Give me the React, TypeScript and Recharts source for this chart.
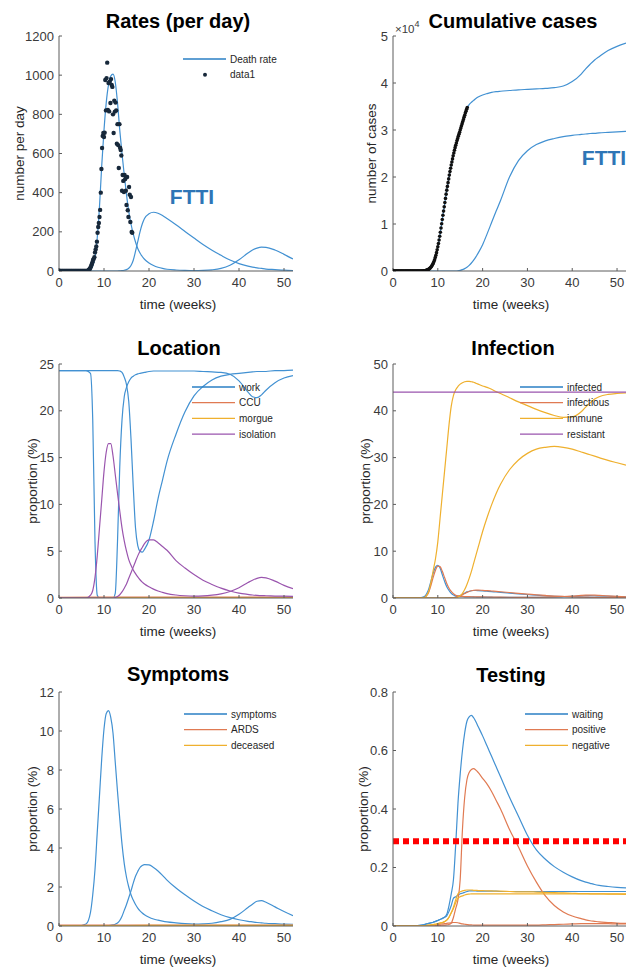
import React from 'react'
import { ComposedChart, Line, Scatter, XAxis, YAxis, Legend, ReferenceLine } from 'recharts'

// shared week grid for the model curves
const weeks = [
  0, 4, 6, 7, 7.5, 8, 8.5, 9, 9.5, 10,
  10.5, 11, 11.5, 12, 12.5, 13, 13.5, 14, 14.5, 15,
  15.5, 16, 16.5, 17, 17.5, 18, 18.5, 19, 20, 21,
  22, 23, 24, 26, 28, 30, 32, 34, 36, 38,
  40, 42, 43, 44, 45, 46, 48, 50, 52,
]
const flatWeeks = [0, 10, 20, 30, 40, 52]
const xTicks = [0, 10, 20, 30, 40, 50]

// Rates (per day)
const rateA = [
  0, 0, 1, 8, 25, 70, 170, 330, 540, 720,
  860, 950, 995, 1005, 965, 860, 720, 600, 490, 390,
  305, 240, 190, 148, 115, 92, 74, 60, 41, 28,
  19, 13, 9, 5, 3, 2, 3, 6, 13, 29,
  57, 92, 107, 117, 122, 121, 107, 85, 61,
]
const rateB = [
  0, 0, 0, 0, 0, 0, 0, 0, 0, 0,
  0, 0, 0, 0, 0, 0, 1, 2, 4, 7,
  14, 28, 55, 100, 150, 200, 240, 268, 292, 300,
  295, 283, 268, 236, 202, 168, 135, 106, 80, 56,
  38, 25, 20, 16, 13, 10, 7, 4, 2,
]
// observed daily deaths (one value per day from week 0)
const deathsDaily = [
  0, 0, 0, 0, 0, 0, 0, 0, 0, 0, 0, 0, 0, 0, 0, 0, 0, 0, 0, 0,
  0, 0, 0, 0, 0, 0, 0, 0, 0, 0, 0, 0, 0, 0, 0, 0, 0, 0, 0, 0,
  0, 0, 0, 0, 0, 0, 5, 8, 12, 18,
  25, 35, 45, 56, 62, 70, 95, 110, 125, 150,
  195, 225, 245, 276, 312, 400, 521, 628, 690, 705,
  684, 706, 975, 820, 985, 1064, 822, 960, 815, 967,
  858, 980, 950, 940, 800, 705, 870, 814, 860, 820,
  650, 750, 643, 526, 750, 630, 618, 590, 410, 490,
  460, 403, 490, 470, 410, 337, 480, 310, 276, 429,
  390, 250, 378, 199, 195,
]

// Cumulative cases
const cumA = [
  0, 0, 0, 50, 150, 400, 1000, 2000, 3400, 5000,
  7800, 10900, 14100, 17200, 20000, 22500, 24800, 26700, 28400, 30000,
  31600, 33100, 34600, 35400, 35900, 36300, 36700, 37000, 37450, 37750,
  38000, 38150, 38250, 38400, 38550, 38650, 38750, 38850, 39000, 39350,
  40300, 41900, 43000, 44000, 44900, 45600, 46900, 47800, 48500,
]
const cumB = [
  0, 0, 0, 0, 0, 0, 0, 0, 0, 0,
  0, 0, 0, 0, 0, 0, 0, 0, 50, 150,
  300, 500, 800, 1200, 1700, 2300, 3000, 3800, 5600, 7900,
  10300, 12700, 15000, 20000, 23500, 25600, 26900, 27700, 28200, 28600,
  28850, 29050, 29150, 29250, 29300, 29400, 29500, 29600, 29700,
]
const casesDaily = [
  0, 0, 0, 0, 0, 0, 0, 0, 0, 0, 0, 0, 0, 0, 0, 0, 0, 0, 0, 0,
  0, 0, 0, 0, 0, 0, 0, 0, 0, 0, 0, 0, 0, 0, 0, 0, 0, 0, 0, 0,
  0, 0, 0, 0, 0, 0, 5, 10, 20, 35,
  55, 85, 125, 180, 240, 310, 400, 500, 620, 780,
  960, 1180, 1420, 1700, 2000, 2400, 2850, 3350, 3900, 4500,
  5150, 5850, 6600, 7400, 8250, 9150, 10050, 10950, 11850, 12750,
  13650, 14550, 15450, 16350, 17200, 18000, 18800, 19600, 20400, 21150,
  21850, 22550, 23200, 23850, 24500, 25100, 25700, 26250, 26750, 27250,
  27750, 28200, 28650, 29100, 29500, 30000, 30450, 30900, 31350, 31800,
  32250, 32700, 33150, 33600, 34000, 34400, 34800,
]

// Location
const workA = [
  24.3, 24.3, 24.3, 24.0, 19, 6, 0.3, 0, 0, 0,
  0, 0, 0, 0, 0.5, 6, 14, 19, 21.5, 22.5,
  23.1, 23.5, 23.7, 23.85, 23.95, 24.0, 24.05, 24.1, 24.2, 24.25,
  24.25, 24.25, 24.25, 24.25, 24.25, 24.25, 24.2, 24.15, 24.1, 23.9,
  23.2, 22.0, 21.5, 21.4, 21.7, 22.2, 23.0, 23.5, 23.75,
]
const workB = [
  24.3, 24.3, 24.3, 24.3, 24.3, 24.3, 24.3, 24.3, 24.3, 24.3,
  24.3, 24.3, 24.3, 24.3, 24.3, 24.3, 24.25, 24.1, 23.6, 22.8,
  21, 17, 11.9, 7.5, 5.6, 5.0, 4.9, 5.2, 6.2, 8.2,
  10.6, 12.6, 14.6, 17.5, 19.9, 21.6, 22.6, 23.3, 23.7, 23.9,
  24.0, 24.1, 24.15, 24.2, 24.2, 24.2, 24.3, 24.3, 24.35,
]
const isolationA = [
  0, 0, 0, 0.3, 0.8, 2.2, 4.5, 7.5, 10.5, 13.5,
  15.6, 16.5, 16.5, 15.2, 13.2, 11.2, 9.3, 7.5, 6.1, 5.0,
  4.1, 3.5, 3.0, 2.6, 2.25, 1.95, 1.7, 1.5, 1.2, 0.95,
  0.75, 0.6, 0.47, 0.32, 0.24, 0.2, 0.22, 0.3, 0.45, 0.7,
  1.1, 1.65, 1.9, 2.1, 2.2, 2.15, 1.8, 1.35, 1.0,
]
const isolationB = [
  0, 0, 0, 0, 0, 0, 0, 0, 0, 0,
  0, 0, 0, 0, 0.05, 0.15, 0.35, 0.65, 1.05, 1.5,
  2.1, 2.7, 3.3, 3.9, 4.5, 5.0, 5.4, 5.8, 6.2, 6.2,
  5.9, 5.5, 5.1, 4.0, 3.2, 2.5, 1.9, 1.45, 1.05, 0.75,
  0.52, 0.38, 0.32, 0.28, 0.25, 0.24, 0.21, 0.19, 0.18,
]
const ccu = [0.03, 0.05, 0.06, 0.05, 0.05, 0.05]
const morgue = [0.01, 0.02, 0.02, 0.02, 0.02, 0.02]

// Infection
const infectedA = [
  0, 0, 0.05, 0.3, 0.9, 2.0, 3.7, 5.4, 6.6, 7.0,
  6.4, 5.0, 3.6, 2.4, 1.6, 1.0, 0.65, 0.45, 0.35, 0.3,
  0.28, 0.26, 0.25, 0.24, 0.23, 0.22, 0.21, 0.2, 0.19, 0.18,
  0.17, 0.16, 0.15, 0.14, 0.13, 0.13, 0.14, 0.16, 0.2, 0.27,
  0.35, 0.45, 0.5, 0.5, 0.48, 0.45, 0.37, 0.28, 0.22,
]
const infectedB = [
  0, 0, 0, 0, 0, 0, 0, 0, 0, 0,
  0, 0, 0, 0.01, 0.02, 0.05, 0.1, 0.2, 0.35, 0.55,
  0.8, 1.05, 1.3, 1.45, 1.55, 1.6, 1.6, 1.58, 1.52, 1.45,
  1.37, 1.28, 1.2, 1.05, 0.9, 0.75, 0.6, 0.47, 0.36, 0.28,
  0.22, 0.17, 0.15, 0.14, 0.13, 0.12, 0.1, 0.09, 0.08,
]
const infectiousA = [
  0, 0, 0.02, 0.1, 0.5, 1.3, 2.8, 4.5, 6.0, 6.8,
  6.7, 5.7, 4.4, 3.1, 2.1, 1.4, 0.9, 0.6, 0.45, 0.38,
  0.34, 0.31, 0.29, 0.28, 0.27, 0.26, 0.25, 0.24, 0.22, 0.21,
  0.2, 0.19, 0.18, 0.16, 0.15, 0.15, 0.16, 0.19, 0.24, 0.32,
  0.42, 0.55, 0.6, 0.62, 0.6, 0.56, 0.46, 0.35, 0.27,
]
const infectiousB = [
  0, 0, 0, 0, 0, 0, 0, 0, 0, 0,
  0, 0, 0, 0, 0.01, 0.03, 0.07, 0.15, 0.28, 0.45,
  0.7, 0.95, 1.2, 1.4, 1.55, 1.65, 1.68, 1.68, 1.64, 1.58,
  1.5, 1.42, 1.33, 1.17, 1.0, 0.84, 0.68, 0.54, 0.42, 0.33,
  0.26, 0.2, 0.18, 0.16, 0.15, 0.14, 0.12, 0.1, 0.09,
]
const immuneA = [
  0, 0, 0, 0.1, 0.5, 1.5, 3.5, 6, 8.5, 12,
  17, 22, 27, 32, 37, 41, 43.3, 44.5, 45.2, 45.7,
  46.0, 46.2, 46.3, 46.3, 46.2, 46.1, 45.9, 45.7, 45.3, 45.0,
  44.6, 44.1, 43.7, 42.8, 41.9, 41.1, 40.3, 39.6, 39.0, 38.6,
  38.7, 39.8, 40.8, 41.7, 42.5, 43.0, 43.5, 43.7, 43.8,
]
const immuneB = [
  0, 0, 0, 0, 0, 0, 0, 0, 0, 0,
  0, 0, 0, 0, 0, 0, 0, 0, 0.2, 0.5,
  1.0, 1.8, 2.9, 4.2, 5.7, 7.4, 9.1, 10.8, 14.2, 17.2,
  19.9, 22.3, 24.3, 27.4, 29.5, 30.9, 31.8, 32.2, 32.4, 32.2,
  31.8, 31.2, 30.9, 30.6, 30.3, 30.0, 29.4, 28.9, 28.4,
]
const resistant = [44, 44, 44, 44, 44, 44]

// Symptoms
const symptomsA = [
  0, 0, 0.1, 0.7, 1.6, 2.9, 4.8, 6.7, 8.6, 10.1,
  10.9, 11.05, 10.7, 9.9, 8.4, 6.9, 5.5, 4.2, 3.2, 2.5,
  2.0, 1.6, 1.33, 1.1, 0.92, 0.78, 0.67, 0.58, 0.45, 0.36,
  0.3, 0.25, 0.21, 0.16, 0.12, 0.1, 0.11, 0.14, 0.22, 0.34,
  0.6, 0.95, 1.12, 1.27, 1.3, 1.22, 0.98, 0.74, 0.53,
]
const symptomsB = [
  0, 0, 0, 0, 0, 0, 0, 0, 0, 0,
  0.01, 0.02, 0.04, 0.06, 0.09, 0.15, 0.28, 0.5, 0.8, 1.1,
  1.45, 1.8, 2.2, 2.55, 2.8, 3.0, 3.1, 3.15, 3.13, 3.0,
  2.82, 2.6, 2.35, 1.95, 1.6, 1.28, 1.0, 0.78, 0.58, 0.43,
  0.32, 0.24, 0.21, 0.18, 0.16, 0.14, 0.12, 0.1, 0.09,
]
const ards = [0.02, 0.03, 0.03, 0.03, 0.03, 0.03]
const deceased = [0.01, 0.01, 0.02, 0.02, 0.02, 0.02]

// Testing
const waitingA = [
  0, 0, 0.002, 0.005, 0.007, 0.009, 0.011, 0.013, 0.016, 0.019,
  0.022, 0.026, 0.03, 0.04, 0.07, 0.11, 0.16, 0.28, 0.42, 0.52,
  0.6, 0.66, 0.7, 0.715, 0.72, 0.712, 0.698, 0.682, 0.65, 0.615,
  0.58, 0.545, 0.51, 0.44, 0.375, 0.31, 0.26, 0.228, 0.203, 0.184,
  0.168, 0.155, 0.15, 0.146, 0.142, 0.139, 0.135, 0.132, 0.13,
]
const waitingB = [
  0, 0, 0.002, 0.005, 0.007, 0.009, 0.011, 0.013, 0.016, 0.019,
  0.022, 0.026, 0.03, 0.035, 0.05, 0.07, 0.095, 0.1, 0.105, 0.11,
  0.112, 0.115, 0.118, 0.12, 0.12, 0.12, 0.12, 0.119, 0.119, 0.119,
  0.119, 0.119, 0.118, 0.118, 0.118, 0.118, 0.118, 0.118, 0.118, 0.118,
  0.118, 0.118, 0.118, 0.118, 0.118, 0.118, 0.118, 0.118, 0.118,
]
const positiveA = [
  0, 0, 0, 0, 0, 0, 0, 0, 0.001, 0.002,
  0.002, 0.003, 0.003, 0.004, 0.005, 0.01, 0.03, 0.06, 0.09, 0.16,
  0.33, 0.44, 0.5, 0.525, 0.535, 0.538, 0.533, 0.525, 0.505, 0.485,
  0.46, 0.43, 0.4, 0.33, 0.27, 0.205, 0.15, 0.103, 0.07, 0.048,
  0.034, 0.025, 0.021, 0.018, 0.016, 0.014, 0.012, 0.01, 0.009,
]
const positiveB = [
  0, 0, 0, 0, 0, 0.001, 0.002, 0.003, 0.004, 0.005,
  0.006, 0.007, 0.008, 0.009, 0.01, 0.011, 0.012, 0.012, 0.011, 0.009,
  0.007, 0.006, 0.005, 0.004, 0.004, 0.003, 0.003, 0.003, 0.003, 0.003,
  0.003, 0.003, 0.003, 0.003, 0.003, 0.003, 0.003, 0.004, 0.005, 0.006,
  0.007, 0.008, 0.008, 0.008, 0.008, 0.008, 0.008, 0.007, 0.007,
]
const negativeA = [
  0, 0, 0, 0.001, 0.002, 0.003, 0.004, 0.005, 0.006, 0.008,
  0.01, 0.012, 0.015, 0.02, 0.03, 0.045, 0.065, 0.09, 0.11, 0.117,
  0.12, 0.122, 0.123, 0.123, 0.123, 0.122, 0.122, 0.121, 0.121, 0.12,
  0.12, 0.119, 0.119, 0.118, 0.117, 0.117, 0.116, 0.115, 0.114, 0.113,
  0.112, 0.111, 0.111, 0.11, 0.11, 0.11, 0.109, 0.109, 0.108,
]
const negativeB = [
  0, 0, 0, 0.001, 0.002, 0.003, 0.004, 0.005, 0.006, 0.008,
  0.01, 0.012, 0.015, 0.02, 0.03, 0.045, 0.06, 0.08, 0.095, 0.1,
  0.103, 0.106, 0.108, 0.109, 0.11, 0.11, 0.11, 0.11, 0.11, 0.11,
  0.11, 0.11, 0.11, 0.11, 0.11, 0.11, 0.11, 0.11, 0.11, 0.11,
  0.11, 0.11, 0.11, 0.11, 0.11, 0.11, 0.11, 0.11, 0.11,
]
const testingThreshold = 0.29

const BLUE = '#4291d2'
const ORANGE = '#e07a52'
const YELLOW = '#efb02e'
const PURPLE = '#9a55ae'
const DOT = '#17283a'
const FONT = "'Liberation Sans', Arial, sans-serif"

type Curve = { xs: number[]; ys: number[]; color: string; width?: number }
type LegendItem = { label: string; color: string; dot?: boolean }
type Row = { top: number; plotTop: number; plotBottom: number }
type Col = { left: number; yw: number; mr: number }

const toPoints = (xs: number[], ys: number[]) => xs.map((t, i) => ({ t, v: ys[i] }))
const dayToWeek = (vals: number[]) => vals.map((_, d) => d / 7)

const ROWS: Row[] = [
  { top: 0, plotTop: 36, plotBottom: 271 },
  { top: 320, plotTop: 364, plotBottom: 598 },
  { top: 650, plotTop: 692, plotBottom: 926 },
]
const LEFT: Col = { left: 0, yw: 59, mr: 20 }
const RIGHT: Col = { left: 313, yw: 80, mr: 0 }

function LegendBox({ items }: { items: LegendItem[] }) {
  return (
    <svg width={120} height={items.length * 15.7 + 6} style={{ overflow: 'visible', display: 'block' }}>
      {items.map((it, i) => {
        const y = 8 + i * 15.7
        return (
          <g key={it.label}>
            {it.dot ? (
              <circle cx={22} cy={y} r={2} fill={it.color} />
            ) : (
              <line x1={0} x2={43} y1={y} y2={y} stroke={it.color} strokeWidth={1.3} />
            )}
            <text x={47} y={y} dominantBaseline="central" fontSize={10} fill="#262626" fontFamily={FONT}>
              {it.label}
            </text>
          </g>
        )
      })}
    </svg>
  )
}

type PanelProps = {
  col: Col
  row: Row
  yDomain: [number, number]
  yTicks: number[]
  fmt?: (v: number) => string
  curves: Curve[]
  dots?: { xs: number[]; ys: number[]; color: string; r: number }
  legend: LegendItem[]
  legendAt: [number, number]
  refY?: number
}

function Panel({ col, row, yDomain, yTicks, fmt, curves, dots, legend, legendAt, refY }: PanelProps) {
  const height = row.plotBottom - row.top + 44
  const axisStyle = { stroke: '#5c5c5c', strokeWidth: 1 }
  const tickStyle = { fill: '#3a3a3a', fontSize: 13, fontFamily: FONT }
  return (
    <div style={{ position: 'absolute', left: col.left, top: row.top }}>
      <ComposedChart
        width={313}
        height={height}
        margin={{ top: row.plotTop - row.top, right: col.mr, bottom: 0, left: 0 }}
      >
        <XAxis
          type="number"
          dataKey="t"
          domain={[0, 52]}
          ticks={xTicks}
          height={44}
          tickSize={-3}
          tickMargin={10}
          axisLine={axisStyle}
          tickLine={axisStyle}
          tick={tickStyle}
          allowDataOverflow
        />
        <YAxis
          type="number"
          dataKey="v"
          domain={yDomain}
          ticks={yTicks}
          width={col.yw}
          tickSize={-3}
          tickMargin={8}
          axisLine={axisStyle}
          tickLine={axisStyle}
          tick={tickStyle}
          tickFormatter={fmt}
          allowDataOverflow
        />
        {curves.map((c, i) => (
          <Line
            key={i}
            data={toPoints(c.xs, c.ys)}
            dataKey="v"
            type="monotone"
            stroke={c.color}
            strokeWidth={c.width ?? 1.2}
            dot={false}
            activeDot={false}
            isAnimationActive={false}
          />
        ))}
        {dots && (
          <Scatter
            data={toPoints(dots.xs, dots.ys)}
            dataKey="v"
            isAnimationActive={false}
            shape={(p: any) => <circle cx={p.cx} cy={p.cy} r={dots.r} fill={dots.color} />}
          />
        )}
        {refY !== undefined && (
          <ReferenceLine y={refY} stroke="#ff0000" strokeWidth={6} strokeDasharray="6 4" />
        )}
        <Legend
          layout="vertical"
          align="center"
          verticalAlign="middle"
          content={() => <LegendBox items={legend} />}
          wrapperStyle={{ left: legendAt[0] - col.left, top: legendAt[1] - 8 - row.top, width: 120 }}
        />
      </ComposedChart>
    </div>
  )
}

function Overlay() {
  const title = { fontSize: 20, fontWeight: 700, fill: '#000', textAnchor: 'middle' as const, fontFamily: FONT }
  const axisLabel = { fontSize: 13.5, fill: '#262626', textAnchor: 'middle' as const, fontFamily: FONT }
  const yLab = (x: number, row: Row, text: string) => (
    <text
      {...axisLabel}
      x={x}
      y={(row.plotTop + row.plotBottom) / 2}
      dominantBaseline="central"
      transform={`rotate(-90, ${x}, ${(row.plotTop + row.plotBottom) / 2})`}
    >
      {text}
    </text>
  )
  const xLab = (x: number, row: Row) => (
    <text {...axisLabel} x={x} y={row.plotBottom + 33} dominantBaseline="central">
      time (weeks)
    </text>
  )
  return (
    <svg width={626} height={970} style={{ position: 'absolute', left: 0, top: 0, pointerEvents: 'none' }}>
      <text {...title} x={178} y={28}>Rates (per day)</text>
      <text {...title} x={513} y={28}>Cumulative cases</text>
      <text {...title} x={179} y={355}>Location</text>
      <text {...title} x={513} y={355}>Infection</text>
      <text {...title} x={178} y={681}>Symptoms</text>
      <text {...title} x={511} y={682}>Testing</text>
      {xLab(178, ROWS[0])}
      {xLab(511, ROWS[0])}
      {xLab(178, ROWS[1])}
      {xLab(511, ROWS[1])}
      {xLab(178, ROWS[2])}
      {xLab(511, ROWS[2])}
      {yLab(19, ROWS[0], 'number per day')}
      {yLab(371, ROWS[0], 'number of cases')}
      {yLab(32, ROWS[1], 'proportion (%)')}
      {yLab(365, ROWS[1], 'proportion (%)')}
      {yLab(32, ROWS[2], 'proportion (%)')}
      {yLab(363, ROWS[2], 'proportion (%)')}
      <text x={192} y={204} fontSize={21} fontWeight={700} fill="#2e75b6" textAnchor="middle" fontFamily={FONT}>FTTI</text>
      <text x={604} y={165} fontSize={21} fontWeight={700} fill="#2e75b6" textAnchor="middle" fontFamily={FONT}>FTTI</text>
      <text x={395} y={33} fontSize={11.5} fill="#3a3a3a" fontFamily={FONT}>
        ×10<tspan dy={-6} fontSize={9}>4</tspan>
      </text>
    </svg>
  )
}

export default function App() {
  return (
    <div style={{ position: 'absolute', left: 0, top: 0, width: 626, height: 970, background: '#fff' }}>
      <Panel
        col={LEFT}
        row={ROWS[0]}
        yDomain={[0, 1200]}
        yTicks={[0, 200, 400, 600, 800, 1000, 1200]}
        curves={[
          { xs: weeks, ys: rateA, color: BLUE },
          { xs: weeks, ys: rateB, color: BLUE },
        ]}
        dots={{ xs: dayToWeek(deathsDaily), ys: deathsDaily, color: DOT, r: 2.2 }}
        legend={[
          { label: 'Death rate', color: '#2a7fc4' },
          { label: 'data1', color: DOT, dot: true },
        ]}
        legendAt={[183, 59]}
      />
      <Panel
        col={RIGHT}
        row={ROWS[0]}
        yDomain={[0, 50000]}
        yTicks={[0, 10000, 20000, 30000, 40000, 50000]}
        fmt={(v) => String(v / 10000)}
        curves={[
          { xs: weeks, ys: cumA, color: BLUE },
          { xs: weeks, ys: cumB, color: BLUE },
        ]}
        dots={{ xs: dayToWeek(casesDaily), ys: casesDaily, color: '#101010', r: 1.8 }}
        legend={[]}
        legendAt={[520, 40]}
      />
      <Panel
        col={LEFT}
        row={ROWS[1]}
        yDomain={[0, 25]}
        yTicks={[0, 5, 10, 15, 20, 25]}
        curves={[
          { xs: weeks, ys: workA, color: BLUE },
          { xs: weeks, ys: workB, color: BLUE },
          { xs: flatWeeks, ys: ccu, color: ORANGE, width: 2 },
          { xs: flatWeeks, ys: morgue, color: YELLOW },
          { xs: weeks, ys: isolationA, color: PURPLE },
          { xs: weeks, ys: isolationB, color: PURPLE },
        ]}
        legend={[
          { label: 'work', color: '#2a7fc4' },
          { label: 'CCU', color: ORANGE },
          { label: 'morgue', color: YELLOW },
          { label: 'isolation', color: PURPLE },
        ]}
        legendAt={[192, 387]}
      />
      <Panel
        col={RIGHT}
        row={ROWS[1]}
        yDomain={[0, 50]}
        yTicks={[0, 10, 20, 30, 40, 50]}
        curves={[
          { xs: weeks, ys: infectedA, color: BLUE },
          { xs: weeks, ys: infectedB, color: BLUE },
          { xs: weeks, ys: infectiousA, color: ORANGE },
          { xs: weeks, ys: infectiousB, color: ORANGE },
          { xs: weeks, ys: immuneA, color: YELLOW },
          { xs: weeks, ys: immuneB, color: YELLOW },
          { xs: flatWeeks, ys: resistant, color: PURPLE },
        ]}
        legend={[
          { label: 'infected', color: '#2a7fc4' },
          { label: 'infectious', color: ORANGE },
          { label: 'immune', color: YELLOW },
          { label: 'resistant', color: PURPLE },
        ]}
        legendAt={[520, 387]}
      />
      <Panel
        col={LEFT}
        row={ROWS[2]}
        yDomain={[0, 12]}
        yTicks={[0, 2, 4, 6, 8, 10, 12]}
        curves={[
          { xs: weeks, ys: symptomsA, color: BLUE },
          { xs: weeks, ys: symptomsB, color: BLUE },
          { xs: flatWeeks, ys: ards, color: ORANGE, width: 2 },
          { xs: flatWeeks, ys: deceased, color: YELLOW, width: 1.6 },
        ]}
        legend={[
          { label: 'symptoms', color: '#2a7fc4' },
          { label: 'ARDS', color: ORANGE },
          { label: 'deceased', color: YELLOW },
        ]}
        legendAt={[184, 714]}
      />
      <Panel
        col={RIGHT}
        row={ROWS[2]}
        yDomain={[0, 0.8]}
        yTicks={[0, 0.2, 0.4, 0.6, 0.8]}
        curves={[
          { xs: weeks, ys: waitingA, color: BLUE },
          { xs: weeks, ys: waitingB, color: BLUE },
          { xs: weeks, ys: positiveA, color: ORANGE },
          { xs: weeks, ys: positiveB, color: ORANGE },
          { xs: weeks, ys: negativeA, color: YELLOW },
          { xs: weeks, ys: negativeB, color: YELLOW },
        ]}
        refY={testingThreshold}
        legend={[
          { label: 'waiting', color: '#2a7fc4' },
          { label: 'positive', color: ORANGE },
          { label: 'negative', color: YELLOW },
        ]}
        legendAt={[525, 714]}
      />
      <Overlay />
    </div>
  )
}
